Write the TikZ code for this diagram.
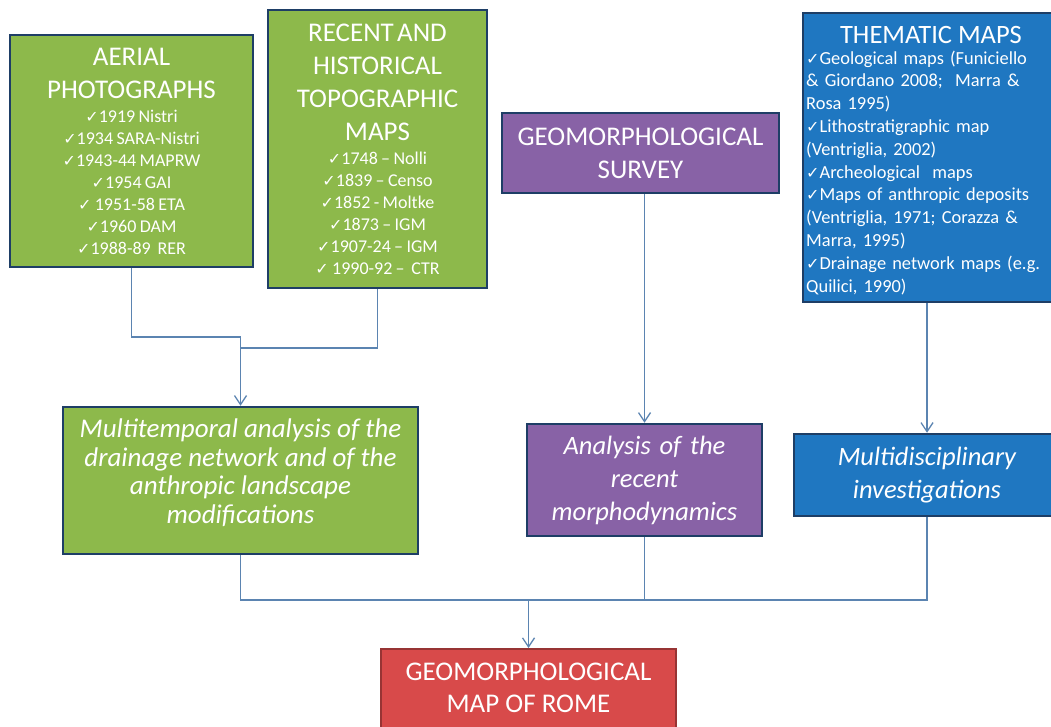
\documentclass[tikz,border=0pt]{standalone}
\usepackage{fontspec}
\setmainfont{Carlito}
\newfontfamily\dejavu{DejaVu Sans}
\usetikzlibrary{arrows.meta}
\definecolor{gfill}{HTML}{8DB94B}
\definecolor{pfill}{HTML}{8862A6}
\definecolor{bfill}{HTML}{1F77C1}
\definecolor{rfill}{HTML}{D84A4A}
\definecolor{bord}{HTML}{1E3E66}
\definecolor{conn}{HTML}{5B84B1}
\newcommand{\ck}{{\dejavu\fontsize{16}{16}\selectfont ✓}}
\newcommand{\bigf}{\fontsize{27}{33}\selectfont}
\newcommand{\itemf}{\fontsize{18}{22}\selectfont}
\tikzset{
  box/.style={draw=bord, line width=2.5pt, text=white, inner sep=0pt, align=center},
  gbox/.style={box, fill=gfill},
  pbox/.style={box, fill=pfill},
  bluebox/.style={box, fill=bfill},
  redbox/.style={draw=rfill!70!black, line width=2pt, fill=rfill},
  wtext/.style={text=white, inner sep=0pt, align=center},
  conline/.style={draw=conn, line width=1.3pt},
  conarrow/.style={conline, -{Straight Barb[length=9pt,width=12pt,line width=1.3pt]}}
}
\begin{document}
\begin{tikzpicture}[x=1pt,y=-1pt]
\clip (0,0) rectangle (1051,727);
\fill[white] (0,0) rectangle (1051,727);

% top row
\node[gbox, minimum width=243pt, minimum height=232pt, text width=240pt] (aerial) at (131.5,151)
 {\bigf AERIAL\\PHOTOGRAPHS\par\vspace{2pt}\itemf
  \ck1919 Nistri\\ \ck1934 SARA-Nistri\\ \ck1943-44 MAPRW\\ \ck1954 GAI\\ \ck\ 1951-58 ETA\\ \ck1960 DAM\\ \ck1988-89\ \ RER\par};

\node[gbox, minimum width=219pt, minimum height=278pt, text width=216pt] (topo) at (377.5,149)
 {\bigf RECENT AND\\HISTORICAL\\TOPOGRAPHIC\\MAPS\par\vspace{2pt}\itemf
  \ck1748 -- Nolli\\ \ck1839 -- Censo\\ \ck1852 - Moltke\\ \ck1873 -- IGM\\ \ck1907-24 -- IGM\\ \ck\ 1990-92 --\ \ CTR\par};

\node[pbox, minimum width=277pt, minimum height=80pt, text width=274pt] (survey) at (640.5,153)
 {\bigf GEOMORPHOLOGICAL\\SURVEY\par};

\node[bluebox, minimum width=262pt, minimum height=289pt] (thematic) at (934,157.5) {};
\node[wtext, font=\fontsize{26.5}{33}\selectfont] (themtitle) at (931,35) {THEMATIC MAPS};
\node[anchor=north west, inner sep=0pt, text=white, text width=250pt, align=left,
      font=\fontsize{18.4}{22.8}\selectfont] (thembody) at (806,50.5)
 {\makebox[244pt][s]{\ck Geological maps (Funiciello}\\
  \makebox[241pt][s]{\& Giordano 2008;\ \ Marra \&}\\
  Rosa 1995)\\
  \ck Lithostratigraphic map\\
  (Ventriglia, 2002)\\
  \ck Archeological\ \ maps\\
  \makebox[243pt][s]{\ck Maps of anthropic deposits}\\
  \makebox[243pt][s]{(Ventriglia, 1971; Corazza \&}\\
  Marra, 1995)\\
  \makebox[238pt][s]{\ck Drainage network maps (e.g.}\\
  Quilici, 1990)};

% middle row
\node[gbox, minimum width=355pt, minimum height=147pt] (multi) at (240.5,480.5) {};
\node[wtext, font=\fontsize{27}{28.5}\selectfont\itshape] (multit) at (240.5,472.5)
 {Multitemporal analysis of the\\drainage network and of the\\anthropic landscape\\modifications};

\node[pbox, minimum width=235pt, minimum height=112pt, text width=232pt,
      font=\fontsize{26.5}{33}\selectfont\itshape] (analysis) at (644.5,480)
 {Analysis of the\\recent\\morphodynamics\par};

\node[bluebox, minimum width=266pt, minimum height=82pt, text width=262pt,
      font=\fontsize{26.5}{33}\selectfont\itshape] (multidisc) at (927,475)
 {Multidisciplinary\\investigations\par};

% bottom
\node[redbox, minimum width=295pt, minimum height=110pt] (rome) at (528.5,704) {};
\node[wtext, font=\fontsize{27}{32}\selectfont] (romet) at (528.5,687.5)
 {GEOMORPHOLOGICAL\\MAP OF ROME};

% connectors
\coordinate (j1) at (240.5,337);
\coordinate (j2) at (528.5,600);
\draw[conline] (aerial.south) |- (j1);
\draw[conline] (topo.south) |- (240.5,348);
\draw[conarrow] (j1) -- (multi.north);
\draw[conarrow] (survey.south -| analysis.north) -- (analysis.north);
\draw[conarrow] (thematic.south -| multidisc.north) -- (multidisc.north);
\draw[conline] (multi.south) |- (multidisc.south |- j2) -- (multidisc.south);
\draw[conline] (analysis.south) -- (analysis.south |- j2);
\draw[conarrow] (j2) -- (rome.north);
\end{tikzpicture}
\end{document}
